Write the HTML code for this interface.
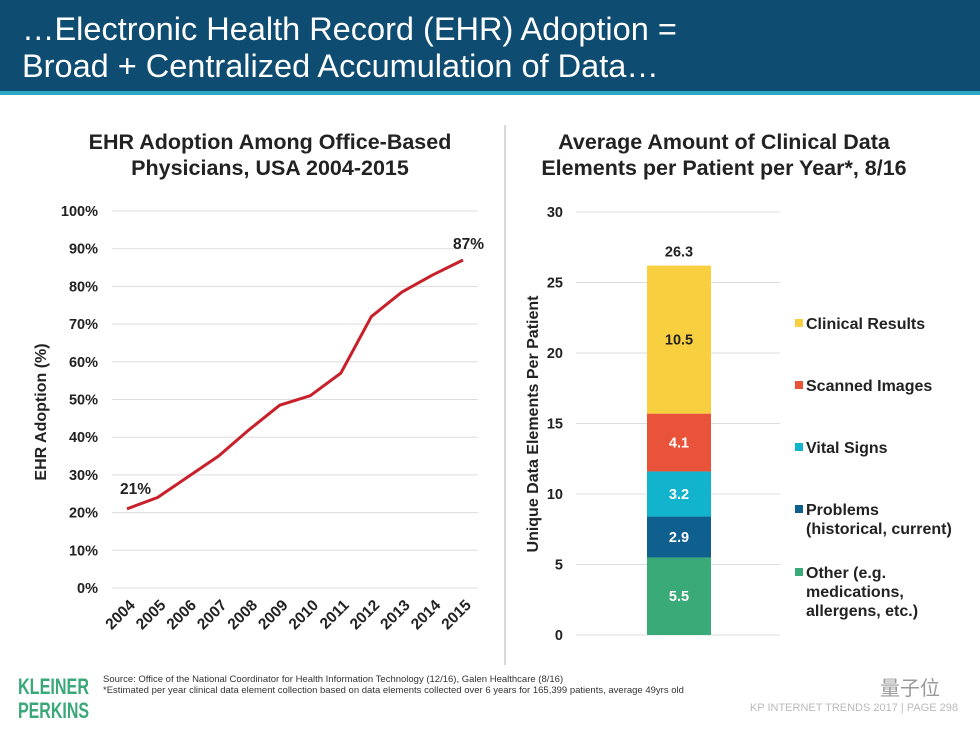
<!DOCTYPE html>
<html><head><meta charset="utf-8">
<style>
body{margin:0;width:980px;height:735px;background:#fff;overflow:hidden;font-family:"Liberation Sans",sans-serif;}
svg{display:block}
</style></head>
<body>
<svg id="root" width="980" height="735" viewBox="0 0 980 735" xmlns="http://www.w3.org/2000/svg" font-family="Liberation Sans, sans-serif">
  <g>
    <rect x="0" y="0" width="980" height="91" fill="#0f4c71"/>
    <rect x="0" y="91" width="980" height="4" fill="#2aa8c4"/>
    <text x="22" y="40" fill="#fff" font-size="32.5">…Electronic Health Record (EHR) Adoption =</text>
    <text x="22" y="77" fill="#fff" font-size="32.5">Broad + Centralized Accumulation of Data…</text>
  </g>
  <line x1="505" y1="125" x2="505" y2="665" stroke="#ccc" stroke-width="1.5"/>
  <g font-weight="bold" font-size="21.5" fill="#222" text-anchor="middle">
    <text x="270" y="149">EHR Adoption Among Office-Based</text>
    <text x="270" y="175">Physicians, USA 2004-2015</text>
  </g>
  <g font-weight="bold" font-size="21.5" fill="#222" text-anchor="middle">
    <text x="724" y="149">Average Amount of Clinical Data</text>
    <text x="724" y="175">Elements per Patient per Year*, 8/16</text>
  </g>
  <g id="line-chart"></g>
  <g id="bar-chart"></g>
  <g>
    <text x="18" y="694" fill="#3aa878" font-size="22" font-weight="bold" textLength="71" lengthAdjust="spacingAndGlyphs">KLEINER</text>
    <text x="18" y="718" fill="#3aa878" font-size="22" font-weight="bold" textLength="71" lengthAdjust="spacingAndGlyphs">PERKINS</text>
    <text x="103" y="682" fill="#333" font-size="9.5">Source: Office of the National Coordinator for Health Information Technology (12/16), Galen Healthcare (8/16)</text>
    <text x="103" y="693" fill="#333" font-size="9.5">*Estimated per year clinical data element collection based on data elements collected over 6 years for 165,399 patients, average 49yrs old</text>
    <text x="958" y="711" fill="#bbb" font-size="11" text-anchor="end">KP INTERNET TRENDS 2017  |  PAGE 298</text>
    <text x="880" y="695" fill="#999" font-size="20" font-family="Liberation Sans, Noto Sans CJK SC, sans-serif">量子位</text>
  </g>
</svg>
<script>
const years = ["2004","2005","2006","2007","2008","2009","2010","2011","2012","2013","2014","2015"];
const adoption = [21, 24, 29.5, 35, 42, 48.5, 51, 57, 72, 78.5, 83, 87];
const yTicks = [0,10,20,30,40,50,60,70,80,90,100];
const segNames = ["Other (e.g.|medications,|allergens, etc.)","Problems|(historical, current)","Vital Signs","Scanned Images","Clinical Results"];
const segValues = [5.5, 2.9, 3.2, 4.1, 10.5];
const segColors = ["#3aaa78","#0f5f8f","#12b3cc","#e8533a","#f7cf3f"];
const barTicks = [0,5,10,15,20,25,30];
const barTotal = "26.3";

const NS = "http://www.w3.org/2000/svg";
function mk(tag, attrs, parent, txt){const e=document.createElementNS(NS,tag);for(const k in attrs)e.setAttribute(k,attrs[k]);if(txt!=null)e.textContent=txt;parent.appendChild(e);return e;}

// line chart
const L = document.getElementById("line-chart");
const yL = v => 588 - v*3.77;
const xL = i => 127 + i*(463-127)/(years.length-1);
yTicks.forEach(t=>{
  const g=mk("line",{x1:112,x2:478,y1:yL(t),y2:yL(t),stroke:"#ddd","stroke-width":1},L);
  
  
  const tx=mk("text",{x:98,y:yL(t)+5,"text-anchor":"end","font-size":14.5,"font-weight":"bold",fill:"#222"},L,t+"%");
  
  
});
years.forEach((y,i)=>{
  const tx=mk("text",{transform:`translate(${xL(i)+9},${606}) rotate(-45)`,"text-anchor":"end","font-size":15.5,"font-weight":"bold",fill:"#222"},L,y);
  
  
});
const pts = adoption.map((v,i)=>xL(i)+","+yL(v)).join(" ");
const pl = mk("polyline",{points:pts,fill:"none",stroke:"#c8202a","stroke-width":3,"stroke-linejoin":"round"},L);


const a1=mk("text",{x:xL(0)-7,y:yL(adoption[0])-15,"font-size":15.5,"font-weight":"bold",fill:"#222"},L,adoption[0]+"%");


const a2=mk("text",{x:xL(years.length-1)-10,y:yL(adoption[adoption.length-1])-11,"font-size":15.5,"font-weight":"bold",fill:"#222"},L,adoption[adoption.length-1]+"%");


const yt=mk("text",{transform:"translate(46,412) rotate(-90)","text-anchor":"middle","font-size":16,"font-weight":"bold",fill:"#222"},L,"EHR Adoption (%)");



// bar chart
const B = document.getElementById("bar-chart");
const yB = v => 635 - v*(635-212)/30;
barTicks.forEach(t=>{
  const g=mk("line",{x1:576,x2:780,y1:yB(t),y2:yB(t),stroke:"#ddd","stroke-width":1},B);
  
  
  const tx=mk("text",{x:563,y:yB(t)+5,"text-anchor":"end","font-size":14.5,"font-weight":"bold",fill:"#222"},B,t);
  
  
});
let cum=0;
const legY=[578,515,453,391,329];
segValues.forEach((v,i)=>{
  const r=mk("rect",{x:647,width:64,y:yB(cum+v),height:yB(cum)-yB(cum+v),fill:segColors[i]},B);
  
  
  const lt=mk("text",{x:679,y:(yB(cum)+yB(cum+v))/2+5,"text-anchor":"middle","font-size":14.5,"font-weight":"bold",fill:i===4?"#222":"#fff"},B,v.toFixed(1));
  
  
  cum+=v;
  const sq=mk("rect",{x:795,y:legY[i]-10,width:8,height:8,fill:segColors[i]},B);
  
  
  segNames[i].split("|").forEach((ln,j)=>{
    const t=mk("text",{x:806,y:legY[i]+j*19,"font-size":16,"font-weight":"bold",fill:"#222"},B,ln);
    
    
  });
});
const tot=mk("text",{x:679,y:yB(cum)-9,"text-anchor":"middle","font-size":14.5,"font-weight":"bold",fill:"#222"},B,barTotal);


const by=mk("text",{transform:"translate(538,424) rotate(-90)","text-anchor":"middle","font-size":16,"font-weight":"bold",fill:"#222"},B,"Unique Data Elements Per Patient");


</script>
</body></html>
